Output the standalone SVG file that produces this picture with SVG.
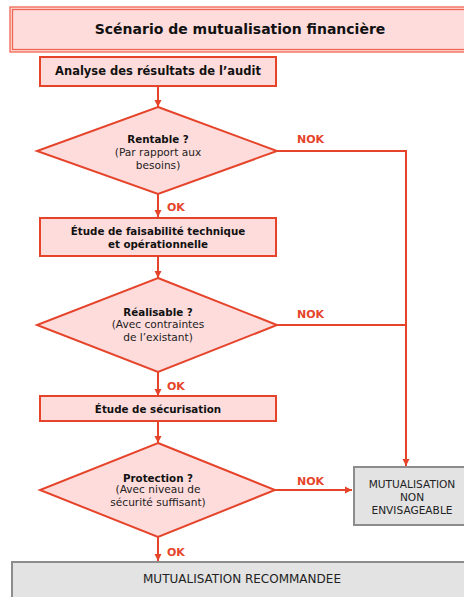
<svg xmlns="http://www.w3.org/2000/svg" width="464" height="597" viewBox="0 0 464 597">
<defs>
<style>
.box{fill:#FFDCDC;stroke:#E5442B;stroke-width:2}
.dia{fill:#FFDCDC;stroke:#E5442B;stroke-width:2}
.gray{fill:#E3E3E3;stroke:#8C8C8C;stroke-width:2}
.ln{fill:none;stroke:#E5442B;stroke-width:2}
.b{font-family:"DejaVu Sans",Verdana,sans-serif;font-weight:bold;font-size:10.3px;fill:#111;text-anchor:middle}
.t{font-family:"DejaVu Sans",Verdana,sans-serif;font-size:10.6px;fill:#222;text-anchor:middle}
.lbl{font-family:"DejaVu Sans",Verdana,sans-serif;font-weight:bold;font-size:11px;fill:#E5442B}
</style>
<marker id="ah" markerWidth="8" markerHeight="8" refX="7" refY="4" orient="auto" markerUnits="userSpaceOnUse">
<path d="M0,0.5 L7,4 L0,7.5 Z" fill="#E5442B"/>
</marker>
</defs>
<rect width="464" height="597" fill="#FFFFFF"/>
<g id="title">
<rect x="10" y="7" width="470" height="45" fill="#FFDCDC" stroke="#EE6652" stroke-width="1.3"/>
<rect x="12.5" y="9.5" width="470" height="40" fill="none" stroke="#EE6652" stroke-width="1.3"/>
<text class="b" x="240" y="34" style="font-size:14px">Scénario de mutualisation financière</text>
</g>
<g id="connectors">
<line class="ln" x1="158" y1="86" x2="158" y2="107" marker-end="url(#ah)"/>
<line class="ln" x1="158" y1="194" x2="158" y2="217" marker-end="url(#ah)"/>
<line class="ln" x1="158" y1="256" x2="158" y2="278" marker-end="url(#ah)"/>
<line class="ln" x1="158" y1="372" x2="158" y2="396" marker-end="url(#ah)"/>
<line class="ln" x1="158" y1="421" x2="158" y2="443" marker-end="url(#ah)"/>
<line class="ln" x1="158" y1="537" x2="158" y2="561" marker-end="url(#ah)"/>
<polyline class="ln" points="277,151 406,151 406,466" marker-end="url(#ah)"/>
<line class="ln" x1="277" y1="325" x2="406" y2="325"/>
<line class="ln" x1="275" y1="490" x2="352" y2="490" marker-end="url(#ah)"/>
<text class="lbl" x="297" y="143">NOK</text>
<text class="lbl" x="297" y="318">NOK</text>
<text class="lbl" x="297" y="485">NOK</text>
<text class="lbl" x="167" y="211">OK</text>
<text class="lbl" x="167" y="390">OK</text>
<text class="lbl" x="167" y="556">OK</text>
</g>
<g id="analyse">
<rect class="box" x="40" y="57" width="236" height="29"/>
<text class="b" x="158" y="75" style="font-size:11.5px">Analyse des résultats de l’audit</text>
</g>
<g id="rentable">
<polygon class="dia" points="158,107 277,151 158,194 37,151"/>
<text class="b" x="158" y="143">Rentable ?</text>
<text class="t" x="158" y="156">(Par rapport aux</text>
<text class="t" x="158" y="169">besoins)</text>
</g>
<g id="faisabilite">
<rect class="box" x="40" y="218" width="236" height="38"/>
<text class="b" x="158" y="235">Étude de faisabilité technique</text>
<text class="b" x="158" y="248">et opérationnelle</text>
</g>
<g id="realisable">
<polygon class="dia" points="158,278 277,325 158,372 37,325"/>
<text class="b" x="158" y="316">Réalisable ?</text>
<text class="t" x="158" y="328">(Avec contraintes</text>
<text class="t" x="158" y="341">de l’existant)</text>
</g>
<g id="securisation">
<rect class="box" x="40" y="396" width="236" height="25"/>
<text class="b" x="158" y="413">Étude de sécurisation</text>
</g>
<g id="protection">
<polygon class="dia" points="158,443 275,490 158,537 40,490"/>
<text class="b" x="158" y="482">Protection ?</text>
<text class="t" x="158" y="493">(Avec niveau de</text>
<text class="t" x="158" y="506">sécurité suffisant)</text>
</g>
<g id="non-envisageable">
<rect class="gray" x="354" y="467" width="120" height="58"/>
<text class="t" x="412" y="488">MUTUALISATION</text>
<text class="t" x="412" y="501">NON</text>
<text class="t" x="412" y="514">ENVISAGEABLE</text>
</g>
<g id="recommandee">
<rect class="gray" x="12" y="562" width="470" height="50"/>
<text class="t" x="242" y="583" style="font-size:12px">MUTUALISATION RECOMMANDEE</text>
</g>
</svg>
